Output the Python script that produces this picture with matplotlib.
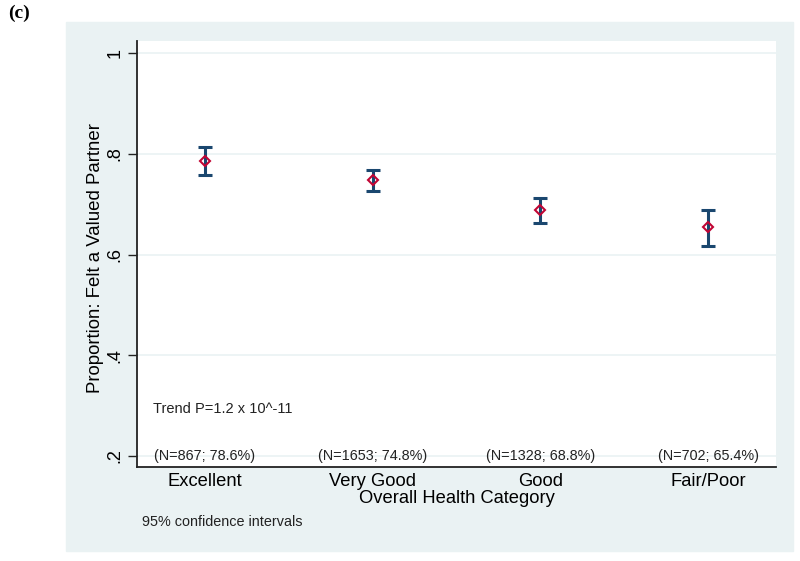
import matplotlib.pyplot as plt
from matplotlib.patches import Rectangle

plt.rcParams['font.family'] = ['Liberation Sans', 'DejaVu Sans']

categories = ['Excellent', 'Very Good', 'Good', 'Fair/Poor']
n_labels = ['(N=867; 78.6%)', '(N=1653; 74.8%)', '(N=1328; 68.8%)', '(N=702; 65.4%)']
prop = [0.786, 0.748, 0.688, 0.654]
ci_low = [0.757, 0.727, 0.663, 0.617]
ci_high = [0.813, 0.768, 0.712, 0.689]
yticks = [0.2, 0.4, 0.6, 0.8, 1.0]
ytick_labels = ['.2', '.4', '.6', '.8', '1']

bg = '#eaf2f3'
navy = '#1a476f'
red = '#c10534'
ink = '#222222'

fig = plt.figure(figsize=(8, 5.61), dpi=100)
fig.patches.append(Rectangle((66/800, 1-551/561), (793-66)/800, (551-22)/561,
                             transform=fig.transFigure, color=bg, zorder=-5))
ax = fig.add_axes([137/800, 1-467/561, (776-137)/800, (467-41)/561])
ax.set_zorder(2)
ax.set_facecolor('white')

x = list(range(1, len(categories)+1))
lo_err = [p - l for p, l in zip(prop, ci_low)]
hi_err = [h - p for p, h in zip(prop, ci_high)]
ax.errorbar(x, prop, yerr=[lo_err, hi_err], fmt='none', ecolor=navy,
            elinewidth=2.2, capsize=5, capthick=2.2, zorder=3)
ax.plot(x, prop, linestyle='none', marker='D', markersize=5.5,
        markerfacecolor='none', markeredgecolor=red, markeredgewidth=1.5, zorder=4)

for xi, lab in zip(x, n_labels):
    ax.text(xi, 0.2, lab, ha='center', va='center', fontsize=10.4, color=ink)
ax.text(0.69, 0.294, 'Trend P=1.2 x 10^-11', ha='left', va='center',
        fontsize=10.5, color=ink)

ax.set_xlim(0.595, 4.405)
ax.set_ylim(0.178, 1.024)
ax.set_yticks(yticks)
ax.set_yticklabels(ytick_labels, rotation=90, va='center', fontsize=13)
ax.set_xticks(x)
ax.set_xticklabels(categories, fontsize=13.2)
ax.tick_params(axis='x', length=0, pad=4)
ax.tick_params(axis='y', length=6.5, width=1, pad=3, color=ink)
ax.grid(axis='y', color=bg, linewidth=1.2)
ax.set_axisbelow(True)
for s in ['top', 'right']:
    ax.spines[s].set_visible(False)
for s in ['left', 'bottom']:
    ax.spines[s].set_linewidth(1.3)
    ax.spines[s].set_color(ink)

ax.set_xlabel('Overall Health Category', fontsize=13.2, labelpad=0)
ax.set_ylabel('Proportion: Felt a Valued Partner', fontsize=13.4, va='center')
ax.yaxis.set_label_coords((96-137)/639, 0.49)

fig.text(142/800, 1-522/561, '95% confidence intervals', fontsize=10.4,
         va='center', ha='left', color=ink)
fig.text(19/800, 1-13/561, '(c)', fontsize=14, fontweight='bold',
         family='Liberation Serif', va='center', ha='center')

fig.savefig('out.png', dpi=100)
